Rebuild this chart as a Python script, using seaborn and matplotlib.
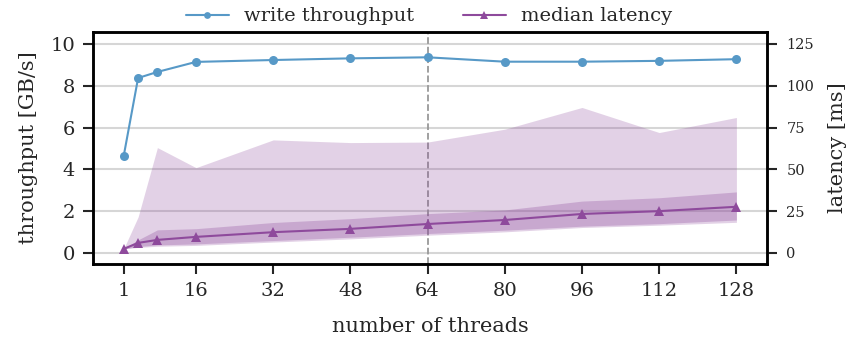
import matplotlib
matplotlib.use("Agg")
import matplotlib.pyplot as plt
import seaborn as sns
import pandas as pd

threads = [1, 4, 8, 16, 32, 48, 64, 80, 96, 112, 128]
throughput = [4.62, 8.37, 8.66, 9.14, 9.23, 9.31, 9.36, 9.15, 9.15, 9.19, 9.27]
latency_median = [2.4, 6.0, 7.8, 9.6, 12.4, 14.4, 17.3, 19.7, 23.3, 25.0, 27.6]
latency_p25 = [2.4, 3.8, 4.8, 5.4, 7.4, 9.4, 11.6, 13.6, 16.0, 17.5, 19.7]
latency_p75 = [2.4, 7.8, 13.8, 14.5, 18.2, 20.5, 23.5, 25.7, 31.0, 33.0, 36.5]
latency_min = [2.4, 3.3, 4.0, 4.5, 6.5, 8.4, 10.6, 12.6, 15.2, 16.6, 18.3]
latency_max = [2.4, 21.5, 63.0, 51.0, 67.6, 66.0, 66.3, 74.0, 87.0, 72.0, 81.0]
xticks = [1, 16, 32, 48, 64, 80, 96, 112, 128]

sns.set_style("ticks")
plt.rcParams["font.family"] = ["DejaVu Serif"]
plt.rcParams["axes.linewidth"] = 1.8

blue = "#5799c7"
purple = "#8e4a9c"

df = pd.DataFrame({"threads": threads, "throughput": throughput,
                   "latency": latency_median})

fig = plt.figure(figsize=(8.5, 3.37), dpi=100)
ax = fig.add_axes([0.1094, 0.2166, 0.7930, 0.6884])
ax2 = ax.twinx()

ax.yaxis.grid(True, color="#d6d6d6", linewidth=1.5)
ax.set_axisbelow(True)

ax2.fill_between(threads, latency_min, latency_max, color=purple, alpha=0.25, linewidth=0)
ax2.fill_between(threads, latency_p25, latency_p75, color=purple, alpha=0.3, linewidth=0)
sns.lineplot(data=df, x="threads", y="latency", ax=ax2, color=purple, marker="^",
             markersize=7.5, markeredgewidth=0, linewidth=1.5, label="median latency",
             legend=False)
sns.lineplot(data=df, x="threads", y="throughput", ax=ax, color=blue, marker="o",
             markersize=6.5, markeredgewidth=0, linewidth=1.5, label="write throughput",
             legend=False)
ax.axvline(64, color="#999999", linestyle="--", linewidth=1.3, zorder=1)

ax.set_ylim(-0.53, 10.57)
ax2.set_ylim(-0.53 * 12.5, 10.57 * 12.5)
ax.set_xlim(-5.35, 134.35)
ax.set_yticks([0, 2, 4, 6, 8, 10])
ax2.set_yticks([0, 25, 50, 75, 100, 125])
ax.set_xticks(xticks)

ax.set_xlabel("number of threads", fontsize=15, labelpad=12)
ax.set_ylabel("throughput [GB/s]", fontsize=15, labelpad=9)
ax2.set_ylabel("latency [ms]", fontsize=15, labelpad=10)
ax.tick_params(axis="both", labelsize=14, width=1.5, length=7, pad=6)
ax2.tick_params(axis="y", labelsize=10.5, width=1.5, length=7, pad=7)
for a in (ax, ax2):
    for s in a.spines.values():
        s.set_linewidth(1.8)
        s.set_color("black")

h1, l1 = ax.get_legend_handles_labels()
h2, l2 = ax2.get_legend_handles_labels()
fig.legend(h1 + h2, l1 + l2, loc="upper center", bbox_to_anchor=(0.505, 1.03),
           ncol=2, frameon=False, fontsize=14, columnspacing=2.5, handlelength=2.2,
           markerscale=0.75)

fig.savefig("out.png", dpi=100)
